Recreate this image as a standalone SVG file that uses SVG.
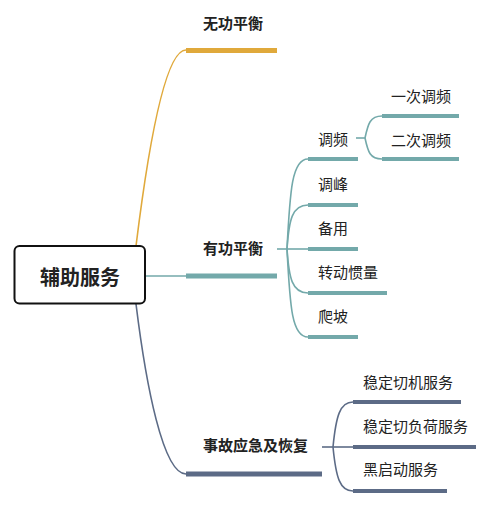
<svg xmlns="http://www.w3.org/2000/svg" width="500" height="506" viewBox="0 0 500 506">
<style>
text{font-family:"Noto Sans CJK SC","Noto Sans",sans-serif;fill:#222;dominant-baseline:central}
.main{font-size:15px;font-weight:bold}
.sub{font-size:15px}
.root{font-size:20px;font-weight:bold}
.c{fill:none;stroke-width:1.6}
.bar{stroke-width:5;stroke-linecap:butt}
.bar2{stroke-width:4;stroke-linecap:butt}
.y{stroke:#E0A93B}
.t{stroke:#73A9AA}
.s{stroke:#5C6B86}
</style>
<rect width="500" height="506" fill="#fff"/>
<g id="connectors">
<path class="c y" d="M136,246 C146,165 163,50 186,50"/>
<path class="c t" d="M145,276 L186,276"/>
<path class="c s" d="M136,304 C146,385 163,474 186,474"/>
<path class="c t" d="M277,249 L287,249"/>
<path class="c t" d="M287,249 C290,190 292,159 308,159"/>
<path class="c t" d="M287,249 C289,220 292,205 308,205"/>
<path class="c t" d="M287,249 L308,249"/>
<path class="c t" d="M287,249 C289,278 292,293 308,293"/>
<path class="c t" d="M287,249 C290,308 292,337 308,337"/>
<path class="c t" d="M356,138 L365,138"/>
<path class="c t" d="M365,138 C368,124 370,116 382,116"/>
<path class="c t" d="M365,138 C368,152 370,159 382,159"/>
<path class="c s" d="M322,447 L333,447"/>
<path class="c s" d="M333,447 C336,416 340,402 353,402"/>
<path class="c s" d="M333,447 L353,447"/>
<path class="c s" d="M333,447 C336,478 340,491 353,491"/>
</g>
<g id="root">
<rect x="14.5" y="246" width="130.5" height="57.5" rx="5" fill="#fff" stroke="#111" stroke-width="2"/>
<text class="root" x="80" y="276" text-anchor="middle">辅助服务</text>
</g>
<g id="n-wugong">
<line class="bar y" x1="186" y1="50.5" x2="277" y2="50.5"/>
<text class="main" x="203" y="22">无功平衡</text>
</g>
<g id="n-yougong">
<line class="bar t" x1="186" y1="276" x2="277" y2="276"/>
<text class="main" x="203" y="247.5">有功平衡</text>
</g>
<g id="n-shigu">
<line class="bar s" x1="186" y1="474" x2="322" y2="474"/>
<text class="main" x="203" y="444.5">事故应急及恢复</text>
</g>
<g id="n-tiaopin">
<line class="bar2 t" x1="308" y1="159" x2="358" y2="159"/>
<text class="sub" x="318" y="138">调频</text>
</g>
<g id="n-yici">
<line class="bar2 t" x1="382" y1="116" x2="459" y2="116"/>
<text class="sub" x="391" y="95">一次调频</text>
</g>
<g id="n-erci">
<line class="bar2 t" x1="382" y1="159" x2="459" y2="159"/>
<text class="sub" x="391" y="139">二次调频</text>
</g>
<g id="n-tiaofeng">
<line class="bar2 t" x1="308" y1="205" x2="358" y2="205"/>
<text class="sub" x="318" y="183">调峰</text>
</g>
<g id="n-beiyong">
<line class="bar2 t" x1="308" y1="249" x2="358" y2="249"/>
<text class="sub" x="318" y="227">备用</text>
</g>
<g id="n-guanliang">
<line class="bar2 t" x1="308" y1="293" x2="387" y2="293"/>
<text class="sub" x="318" y="271">转动惯量</text>
</g>
<g id="n-papo">
<line class="bar2 t" x1="308" y1="337" x2="358" y2="337"/>
<text class="sub" x="318" y="315">爬坡</text>
</g>
<g id="n-qieji">
<line class="bar2 s" x1="353" y1="402" x2="461" y2="402"/>
<text class="sub" x="363" y="381">稳定切机服务</text>
</g>
<g id="n-qiefuhe">
<line class="bar2 s" x1="353" y1="447" x2="476" y2="447"/>
<text class="sub" x="363" y="425">稳定切负荷服务</text>
</g>
<g id="n-heiqidong">
<line class="bar2 s" x1="353" y1="491" x2="447" y2="491"/>
<text class="sub" x="363" y="468">黑启动服务</text>
</g>
</svg>
